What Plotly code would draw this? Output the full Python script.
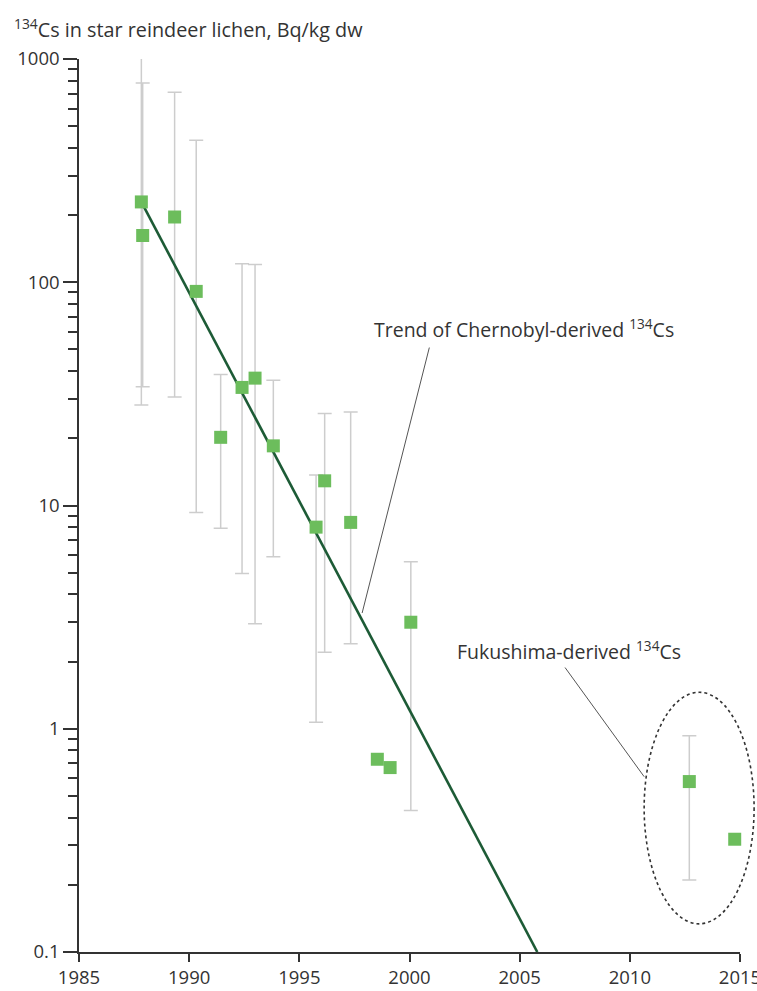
import math
import plotly.graph_objects as go

# ---------------- data ----------------
chern_years = [1987.83, 1987.89, 1989.34, 1990.32, 1991.43, 1992.40, 1992.99,
               1993.82, 1995.76, 1996.15, 1997.33, 1998.54, 1999.12, 2000.06]
chern_values = [229, 162, 196, 91, 20.2, 33.8, 37.2, 18.5, 8.0, 12.9, 8.4, 0.73, 0.67, 3.0]
chern_upper = [1140, 780, 710, 433, 38.6, 121, 120, 36.4, 13.7, 25.8, 26.2, None, None, 5.6]
chern_lower = [28.2, 34.0, 30.6, 9.3, 7.9, 4.96, 2.95, 5.9, 1.07, 2.2, 2.4, None, None, 0.43]

fuku_years = [2012.70, 2014.76]
fuku_values = [0.58, 0.32]
fuku_upper = [0.93, None]
fuku_lower = [0.21, None]

trend_years = [1987.9, 2005.8]
trend_values = [222, 0.1]

x_ticks = [1985, 1990, 1995, 2000, 2005, 2010, 2015]
y_ticks = [0.1, 1, 10, 100, 1000]
y_tick_labels = ["0.1", "1", "10", "100", "1000"]

# annotation anchors (year, value)
trend_label_pos = (1998.3, 62)
trend_leader = [(2000.9, 51), (1997.85, 3.3)]
fuku_label_pos = (2002.07, 2.24)
fuku_leader = [(2007.06, 1.88), (2010.65, 0.61)]
fuku_ellipse = [(2010.65, 0.1337), (2015.64, 1.456)]

# ---------------- styling ----------------
GREEN = "#6cbd5c"
DARK_GREEN = "#1d5b36"
ERR = "#cdcdcd"
INK = "#333333"
FONT = "Open Sans"

X0, X1 = 1985, 2015
LY0, LY1 = -1, 3


def xp(year):
    return (year - X0) / (X1 - X0)


def yp(v):
    return (math.log10(v) - LY0) / (LY1 - LY0)


all_years = chern_years + fuku_years
all_values = chern_values + fuku_values
all_upper = chern_upper + fuku_upper
all_lower = chern_lower + fuku_lower

ex, ey, eplus, eminus = [], [], [], []
for x, v, u, lo in zip(all_years, all_values, all_upper, all_lower):
    if u is not None:
        ex.append(x)
        ey.append(v)
        eplus.append(u - v)
        eminus.append(v - lo)

fig = go.Figure()

# error bars (markers invisible)
fig.add_trace(go.Scatter(
    x=ex, y=ey, mode="markers",
    marker=dict(size=1, color="rgba(0,0,0,0)"),
    error_y=dict(type="data", symmetric=False, array=eplus, arrayminus=eminus,
                 color=ERR, thickness=1.5, width=7),
    hoverinfo="skip", showlegend=False, cliponaxis=False,
))

# trend line
fig.add_trace(go.Scatter(
    x=trend_years, y=trend_values, mode="lines",
    line=dict(color=DARK_GREEN, width=2.6),
    showlegend=False, cliponaxis=True,
))

# markers
fig.add_trace(go.Scatter(
    x=all_years, y=all_values, mode="markers",
    marker=dict(symbol="square", size=13, color=GREEN, line=dict(width=0)),
    showlegend=False, cliponaxis=False,
))

shapes = []
for seg in (trend_leader, fuku_leader):
    (xa, va), (xb, vb) = seg
    shapes.append(dict(type="line", xref="paper", yref="paper",
                       x0=xp(xa), y0=yp(va), x1=xp(xb), y1=yp(vb),
                       line=dict(color="#555555", width=1)))
(ea, eva), (eb, evb) = fuku_ellipse
shapes.append(dict(type="circle", xref="paper", yref="paper",
                   x0=xp(ea), y0=yp(eva), x1=xp(eb), y1=yp(evb),
                   line=dict(color=INK, width=1.6, dash="dot")))

annotations = [
    dict(text="<sup>134</sup>Cs in star reindeer lichen, Bq/kg dw",
         xref="paper", yref="paper", x=-0.101, y=1.0336,
         xanchor="left", yanchor="middle", showarrow=False,
         font=dict(family=FONT, size=19.8, color=INK)),
    dict(text="Trend of Chernobyl-derived <sup>134</sup>Cs",
         xref="paper", yref="paper", x=xp(trend_label_pos[0]), y=yp(trend_label_pos[1]),
         xanchor="left", yanchor="middle", showarrow=False,
         font=dict(family=FONT, size=19.5, color=INK)),
    dict(text="Fukushima-derived <sup>134</sup>Cs",
         xref="paper", yref="paper", x=xp(fuku_label_pos[0]), y=yp(fuku_label_pos[1]),
         xanchor="left", yanchor="middle", showarrow=False,
         font=dict(family=FONT, size=19.5, color=INK)),
]

fig.update_layout(
    width=757, height=991,
    margin=dict(l=79, r=17, t=59, b=39, autoexpand=False),
    plot_bgcolor="white", paper_bgcolor="white",
    font=dict(family=FONT, size=17, color=INK),
    shapes=shapes, annotations=annotations,
    showlegend=False,
    xaxis=dict(range=[X0, X1], tickvals=x_ticks, ticks="outside", ticklen=8,
               tickwidth=1.5, tickcolor=INK, showline=True, linecolor=INK,
               linewidth=1.5, showgrid=False, zeroline=False, automargin=False,
               ticklabeloverflow="allow",
               tickfont=dict(family=FONT, size=18.5, color=INK)),
    yaxis=dict(type="log", range=[LY0, LY1], tickvals=y_ticks, ticktext=y_tick_labels,
               ticks="outside", ticklen=14, tickwidth=1.5, tickcolor=INK,
               showline=True, linecolor=INK, linewidth=1.5, showgrid=False,
               zeroline=False, automargin=False, ticklabeloverflow="allow",
               tickfont=dict(family=FONT, size=18.5, color=INK),
               minor=dict(ticks="outside", ticklen=9, tickwidth=1.5, tickcolor=INK,
                          dtick="D1", showgrid=False)),
)

fig.write_html("out.html", config={"displayModeBar": False},
               post_script="document.body.style.margin='0';document.body.style.overflow='hidden';")
